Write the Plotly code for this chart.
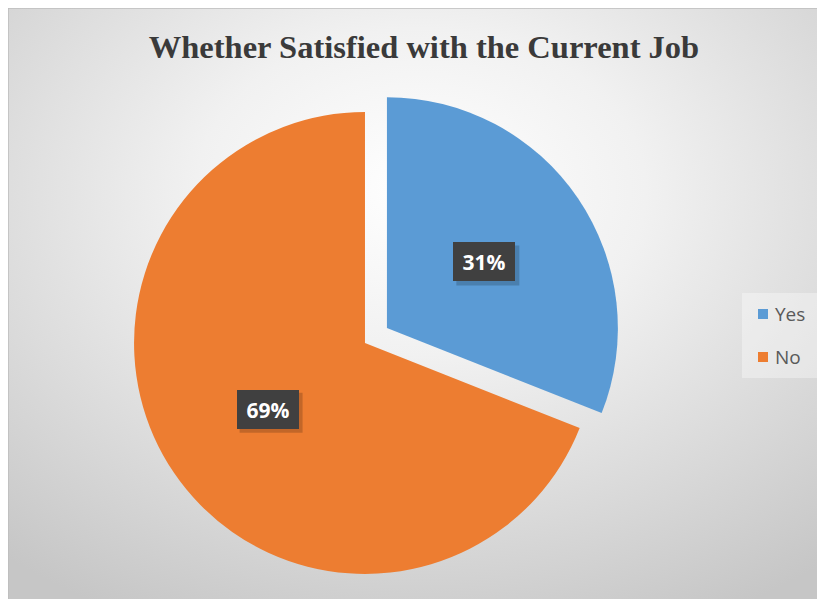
import math
import base64
import plotly.graph_objects as go

# ---- data ----
labels = ["Yes", "No"]
values = [31, 69]
colors = ["#5B9BD5", "#ED7D31"]
pulls = [0.115, 0.0]
title_text = "Whether Satisfied with the Current Job"

# ---- layout constants ----
W, H = 825, 599
dom_x = [0.1206, 0.7448]
dom_y = [0.0, 0.8814]

fig = go.Figure(
    go.Pie(
        labels=labels,
        values=values,
        marker=dict(colors=colors, line=dict(width=0)),
        sort=False,
        direction="clockwise",
        rotation=0,
        pull=pulls,
        textinfo="none",
        hoverinfo="label+percent",
        showlegend=False,
        domain=dict(x=dom_x, y=dom_y),
    )
)

# gradient background as an SVG image
svg = """<svg xmlns='http://www.w3.org/2000/svg' width='825' height='599' viewBox='0 0 825 599' preserveAspectRatio='none'>
<defs><radialGradient id='g' cx='0.5' cy='0.32' r='0.78' fx='0.5' fy='0.3'>
<stop offset='0' stop-color='#ffffff'/>
<stop offset='0.35' stop-color='#f1f1f1'/>
<stop offset='1' stop-color='#c6c6c6'/>
</radialGradient></defs>
<rect x='0' y='0' width='825' height='599' fill='url(#g)'/>
</svg>"""
src = "data:image/svg+xml;base64," + base64.b64encode(svg.encode()).decode()
fig.add_layout_image(
    dict(source=src, xref="paper", yref="paper", x=0, y=1,
         sizex=1, sizey=1, xanchor="left", yanchor="top",
         sizing="stretch", layer="below")
)
fig.add_shape(type="rect", xref="paper", yref="paper", x0=0, x1=1,
              y0=0, y1=1, line=dict(color="#bdbdbd", width=1.5),
              fillcolor="rgba(0,0,0,0)", layer="below")

# ---- data labels (boxes) derived from values ----
box_w = W * (dom_x[1] - dom_x[0])
box_h = H * (dom_y[1] - dom_y[0])
r = min(box_w, box_h) / (2 + 2 * max(pulls))
cxp = sum(dom_x) / 2
cyp = sum(dom_y) / 2
total = sum(values)
cum = 0
for v, p in zip(values, pulls):
    mid = (cum + v / 2) / total * 2 * math.pi
    cum += v
    dist = (p + 0.51) * r
    xp = cxp + dist * math.sin(mid) / W
    yp = cyp + dist * math.cos(mid) / H
    txt = f"{round(100 * v / total)}%"
    # soft drop shadow
    fig.add_shape(type="rect", xref="paper", yref="paper",
                  xsizemode="pixel", ysizemode="pixel", xanchor=xp, yanchor=yp,
                  x0=-31 + 3, x1=31 + 4, y0=-19.5 - 4, y1=19.5 - 3,
                  line=dict(width=0), fillcolor="rgba(0,0,0,0.18)", layer="above")
    fig.add_annotation(x=xp, y=yp, xref="paper", yref="paper", text=f"<b>{txt}</b>",
                       showarrow=False, xanchor="center", yanchor="middle",
                       font=dict(family="Open Sans", size=21, color="#ffffff"),
                       bgcolor="#404040", width=58, height=35,
                       borderpad=2, borderwidth=0)

# ---- legend (manual) ----
fig.add_shape(type="rect", xref="paper", yref="paper",
              x0=734 / W, x1=812 / W, y0=1 - 370 / H, y1=1 - 285 / H,
              line=dict(width=0), fillcolor="rgba(255,255,255,0.35)", layer="below")
leg_y = [306, 349]
for lab, col, ly in zip(labels, colors, leg_y):
    fig.add_shape(type="rect", xref="paper", yref="paper",
                  x0=750 / W, x1=760 / W, y0=1 - (ly + 5) / H, y1=1 - (ly - 5) / H,
                  line=dict(width=0), fillcolor=col)
    fig.add_annotation(x=765 / W, y=1 - ly / H, xref="paper", yref="paper",
                       text=lab, showarrow=False, xanchor="left", yanchor="middle",
                       font=dict(family="Open Sans", size=19, color="#595959"))

fig.update_layout(
    width=W, height=H,
    margin=dict(l=0, r=0, t=0, b=0),
    paper_bgcolor="#ffffff",
    plot_bgcolor="rgba(0,0,0,0)",
    title=dict(text=f"<b>{title_text}</b>", x=416 / W, y=1 - 39 / H,
               xanchor="center", yanchor="middle",
               font=dict(family="Liberation Serif", size=32.5, color="#3a3a3a")),
    showlegend=False,
)

fig.write_html("out.html")
